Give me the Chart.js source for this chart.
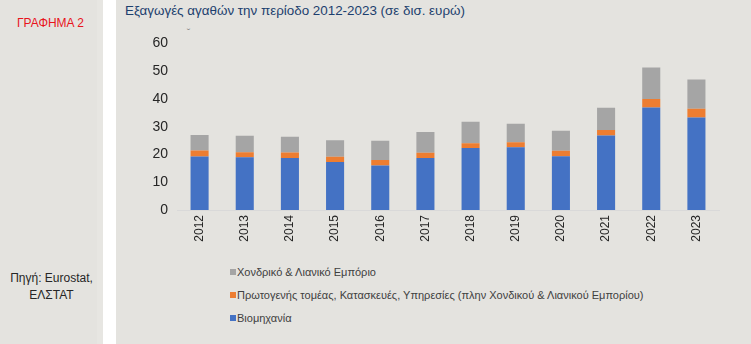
<!DOCTYPE html>
<html lang="el">
<head>
<meta charset="utf-8">
<title>Εξαγωγές αγαθών 2012-2023</title>
<script src="https://cdn.jsdelivr.net/npm/chart.js"></script>
<style>
  html, body {
    margin: 0;
    padding: 0;
    width: 751px;
    height: 344px;
    overflow: hidden;
    background: #e4e3df;
    font-family: "Liberation Sans", Arial, sans-serif;
  }
  .side-panel {
    position: absolute;
    left: 0; top: 0;
    width: 97px; height: 344px;
    background: #e4e3df;
  }
  .side-edge {
    position: absolute;
    left: 97px; top: 0;
    width: 6px; height: 344px;
    background: #e7e6e2;
  }
  .gap {
    position: absolute;
    left: 103px; top: 0;
    width: 13px; height: 344px;
    background: #ffffff;
  }
  .graph-no {
    position: absolute;
    left: 17px; top: 16px;
    color: #e8141c;
    font-size: 12px;
  }
  .source {
    position: absolute;
    left: 0; top: 270px;
    width: 103px;
    text-align: center;
    color: #262626;
    font-size: 12px;
    line-height: 17px;
  }
  .title {
    position: absolute;
    left: 125px; top: 3px;
    color: #1c3f6e;
    font-size: 13.4px;
    white-space: nowrap;
  }
  .stray {
    position: absolute;
    left: 187px; top: 27px;
    color: #8a8a8a;
    font-size: 10px;
  }
  #chart-box {
    position: absolute;
    left: 116px; top: 26px;
    width: 635px; height: 224px;
  }
  #legend {
    position: absolute;
    left: 230px; top: 265px;
    font-family: "Liberation Sans Narrow", "Liberation Sans", Arial, sans-serif;
    font-size: 11px;
    color: #404040;
  }
  #legend .item {
    height: 23px;
    line-height: 14px;
    white-space: nowrap;
  }
  #legend .swatch {
    display: inline-block;
    width: 6px; height: 6px;
    margin-right: 1px;
    vertical-align: 1px;
  }
</style>
</head>
<body>
<div class="side-panel"></div>
<div class="side-edge"></div>
<div class="gap"></div>
<div class="graph-no">ΓΡΑΦΗΜΑ 2</div>
<div class="source">Πηγή: Eurostat,<br>ΕΛΣΤΑΤ</div>
<div class="title">Εξαγωγές αγαθών την περίοδο 2012-2023 (σε δισ. ευρώ)</div>
<div class="stray">˘</div>
<div id="chart-box"><canvas id="exports-chart"></canvas></div>
<div id="legend"></div>

<script>
// --- Chart data (δισ. ευρώ) ---
const years = ['2012', '2013', '2014', '2015', '2016', '2017', '2018', '2019', '2020', '2021', '2022', '2023'];
const industry = [19.3, 19.0, 18.7, 17.3, 16.0, 18.7, 22.3, 22.6, 19.4, 26.8, 36.9, 33.3];
const primaryServices = [2.1, 1.8, 2.0, 1.9, 2.0, 1.9, 1.7, 1.8, 1.9, 2.0, 3.1, 3.2];
const tradeRetail = [5.6, 5.9, 5.7, 5.9, 6.9, 7.5, 7.8, 6.7, 7.2, 8.0, 11.3, 10.5];
const yMin = 0;
const yMax = 60;
const yStep = 10;

const seriesNames = [
    'Βιομηχανία',
    'Πρωτογενής τομέας, Κατασκευές, Υπηρεσίες (πλην Χονδικού & Λιανικού Εμπορίου)',
    'Χονδρικό & Λιανικό Εμπόριο'
];
const seriesColors = ['#4472c4', '#ed7d31', '#a5a5a5'];

function makeDataset(idx, values) {
    return {
        label: seriesNames[idx],
        data: values,
        backgroundColor: seriesColors[idx],
        borderWidth: 0,
        barPercentage: 0.4,
        categoryPercentage: 1.0
    };
}

const ctx = document.getElementById('exports-chart');

const exportsChart = new Chart(ctx, {
    type: 'bar',
    data: {
        labels: years,
        datasets: [
            makeDataset(0, industry),
            makeDataset(1, primaryServices),
            makeDataset(2, tradeRetail)
        ]
    },
    options: {
        responsive: true,
        maintainAspectRatio: false,
        devicePixelRatio: 1,
        animation: false,
        layout: {
            padding: { top: 12, right: 32, bottom: 0, left: 0 }
        },
        plugins: {
            legend: { display: false },
            tooltip: { enabled: false }
        },
        scales: {
            x: {
                stacked: true,
                grid: { display: false, drawTicks: false },
                border: { display: true, color: '#d9d9d9', width: 1 },
                ticks: {
                    color: '#262626',
                    font: { family: 'Liberation Sans', size: 12 },
                    minRotation: 90,
                    maxRotation: 90,
                    padding: 5
                },
                afterFit(scale) { scale.height = 40; }
            },
            y: {
                stacked: true,
                min: yMin,
                max: yMax,
                grid: { display: false, drawTicks: false },
                border: { display: false },
                ticks: {
                    stepSize: yStep,
                    color: '#262626',
                    font: { family: "'Liberation Sans Narrow', 'Liberation Sans'", size: 14 },
                    padding: 9
                },
                afterFit(scale) { scale.width = 61; }
            }
        }
    }
});

// Legend below the plot, top series first
function renderLegend(chart) {
    const box = document.getElementById('legend');
    const rows = chart.data.datasets.slice().reverse().map(ds => `
        <div class="item"><span class="swatch" style="background:${ds.backgroundColor}"></span>${ds.label}</div>
    `).join('');
    box.innerHTML = rows;
}

renderLegend(exportsChart);
</script>
</body>
</html>
